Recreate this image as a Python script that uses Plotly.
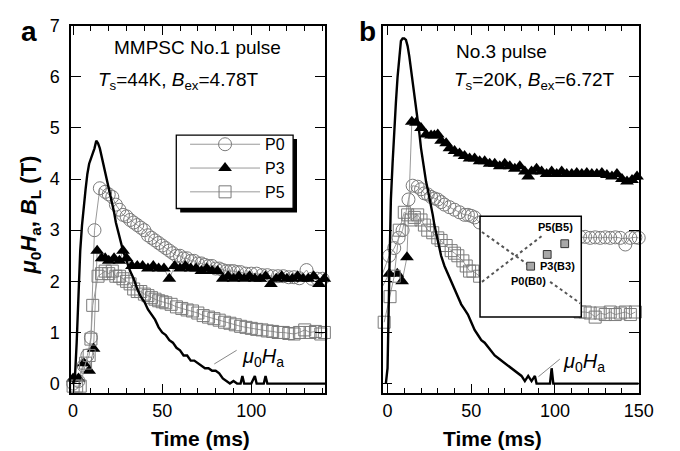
import plotly.graph_objects as go

FONT = "Liberation Sans, Arial, Helvetica, sans-serif"
W, H = 680, 451

# ---------------- data : panel a (MMPSC No.1 pulse) ----------------
t_ha_a = [0, 1, 2, 3, 4, 5, 6, 7, 8, 9, 10, 11, 12, 13, 14, 15, 16, 17, 18, 19, 20,
          21, 22, 23, 24, 25, 26, 27, 28, 29, 30, 32, 34, 36, 38, 40, 42, 44, 46, 48,
          50, 52, 54, 56, 58, 60, 62, 64, 66, 68, 70, 72, 74, 76, 78, 80, 82, 84, 86,
          88, 90, 92, 94, 95, 96, 100, 102, 103, 107, 108, 109, 142]
ha_a = [0.0, 0.1, 0.8, 1.8, 2.6, 3.1, 3.5, 3.8, 4.1, 4.3, 4.4, 4.5, 4.6, 4.75, 4.7,
        4.6, 4.45, 4.3, 4.15, 4.0, 3.85, 3.7, 3.55, 3.35, 3.15, 3.0, 2.85, 2.7, 2.6,
        2.5, 2.4, 2.2, 2.05, 1.85, 1.7, 1.6, 1.45, 1.35, 1.25, 1.1, 1.0, 0.95, 0.85,
        0.8, 0.7, 0.65, 0.55, 0.55, 0.45, 0.45, 0.4, 0.35, 0.3, 0.3, 0.25, 0.25, 0.2,
        0.1, 0.05, 0.0, 0.05, 0.0, 0.0, 0.15, 0.0, 0.0, 0.15, 0.0, 0.0, 0.15, 0.0, 0.0]

t_p0_a = [0, 3, 6, 8, 10, 12, 15, 18, 20, 22, 24, 26, 28, 30, 32, 34, 36, 38, 40, 42,
          44, 46, 48, 50, 52, 54, 56, 58, 60, 62, 64, 66, 68, 70, 72, 74, 76, 78, 80,
          82, 84, 86, 88, 90, 92, 94, 97, 100, 103, 106, 109, 112, 115, 118, 121, 124,
          127, 131, 134, 137, 140]
p0_a = [0.0, 0.05, 0.35, 0.55, 0.9, 3.0, 3.82, 3.75, 3.7, 3.65, 3.5, 3.4, 3.3, 3.27,
        3.2, 3.15, 3.1, 3.05, 3.0, 2.9, 2.85, 2.8, 2.75, 2.7, 2.65, 2.6, 2.55, 2.5, 2.5,
        2.45, 2.45, 2.4, 2.4, 2.35, 2.35, 2.32, 2.3, 2.3, 2.25, 2.25, 2.22, 2.2, 2.2,
        2.2, 2.18, 2.18, 2.15, 2.15, 2.15, 2.12, 2.12, 2.1, 2.1, 2.1, 2.08, 2.08, 2.06,
        2.22, 2.05, 2.05, 2.05]

t_p3_a = [0, 3, 6, 9, 11.5, 13.5, 16, 18, 20, 23, 26, 28, 30, 33, 36, 39, 42, 45, 48,
          51, 54, 57, 60, 63, 66, 69, 72, 75, 78, 81, 84, 87, 90, 93, 96, 99, 102, 105,
          108, 111, 114, 117, 120, 123, 126, 129, 132, 135, 138, 141]
p3_a = [0.1, 0.1, 0.4, 0.25, 0.68, 2.6, 2.45, 2.45, 2.4, 2.45, 2.4, 2.6, 2.45, 2.3,
        2.3, 2.3, 2.25, 2.3, 2.25, 2.25, 2.05, 2.3, 2.25, 2.3, 2.25, 2.25, 2.2, 2.25,
        2.2, 2.2, 2.05, 2.1, 2.05, 2.1, 2.05, 2.1, 2.05, 2.05, 2.1, 1.95, 2.05, 2.1,
        2.05, 2.05, 2.1, 2.05, 2.05, 2.1, 1.95, 2.05]

t_p5_a = [0, 2, 4, 7, 9, 10, 11, 14, 16, 18, 20, 22, 24, 26, 28, 30, 32, 34, 36, 38,
          40, 42, 44, 46, 48, 50, 52, 55, 58, 61, 64, 67, 70, 73, 76, 79, 82, 85, 88,
          91, 94, 97, 100, 103, 106, 109, 112, 115, 118, 121, 124, 127, 130, 133, 136,
          139, 141]
p5_a = [-0.05, -0.05, -0.05, 0.4, 0.55, 0.87, 1.53, 2.1, 2.15, 2.2, 2.15, 2.2, 2.1,
        2.1, 2.05, 2.0, 1.95, 1.85, 1.8, 1.8, 1.75, 1.72, 1.68, 1.65, 1.62, 1.6, 1.58,
        1.55, 1.5, 1.47, 1.44, 1.42, 1.38, 1.33, 1.3, 1.27, 1.24, 1.2, 1.18, 1.15, 1.12,
        1.1, 1.08, 1.06, 1.05, 1.03, 1.02, 1.0, 1.0, 0.98, 0.97, 1.0, 1.05, 1.0, 1.02,
        0.97, 1.0]

# ---------------- data : panel b (No.3 pulse) ----------------
t_ha_b = [-1, 0, 1, 2, 3, 4, 5, 6, 7, 8, 9, 10, 11, 12, 13, 14, 15, 16, 17, 18, 19,
          20, 21, 22, 23, 24, 25, 26, 27, 28, 30, 32, 34, 36, 38, 40, 42, 44, 46, 48,
          50, 52, 54, 56, 58, 60, 62, 64, 66, 68, 70, 72, 74, 76, 78, 80, 82, 84, 86,
          88, 89, 97, 98, 99, 150]
ha_b = [0.0, 0.3, 2.0, 3.6, 4.3, 5.0, 5.5, 6.0, 6.4, 6.7, 6.75, 6.75, 6.72, 6.6, 6.4,
        6.15, 5.9, 5.7, 5.5, 5.2, 4.9, 4.6, 4.35, 4.1, 3.95, 3.8, 3.65, 3.5, 3.3, 3.1,
        2.8, 2.5, 2.3, 2.15, 2.0, 1.85, 1.7, 1.55, 1.45, 1.35, 1.2, 1.05, 0.95, 0.85,
        0.8, 0.72, 0.62, 0.55, 0.5, 0.45, 0.4, 0.35, 0.3, 0.25, 0.2, 0.15, 0.05, 0.15,
        0.05, 0.15, 0.0, 0.0, 0.3, 0.0, 0.0]

t_p0_b = [-3, 1, 4, 6.6, 9, 12.5, 15, 18, 20, 22, 24, 26, 28, 30, 32, 34, 37, 40, 43,
          46, 48, 50, 52, 55, 60, 65, 70, 75, 80, 85, 90, 95, 100, 105, 110, 115, 118,
          121, 124, 127, 130, 133, 136, 139, 142, 145, 148, 150]
p0_b = [2.15, 2.5, 2.65, 2.85, 3.0, 3.6, 3.87, 3.85, 3.8, 3.72, 3.7, 3.65, 3.62, 3.6,
        3.55, 3.5, 3.45, 3.4, 3.35, 3.3, 3.3, 3.28, 3.25, 3.15, 3.1, 3.05, 3.0, 2.98,
        2.96, 2.94, 2.92, 2.9, 2.9, 2.89, 2.88, 2.87, 2.87, 2.85, 2.86, 2.85, 2.86, 2.85,
        2.86, 2.85, 2.72, 2.85, 2.86, 2.85]

t_p3_b = [-3, 1, 5.8, 8.7, 11.6, 14.5, 17, 20, 23, 26, 28, 30, 32, 35, 37, 40, 43, 46,
          49, 52, 55, 58, 61, 64, 67, 70, 73, 76, 79, 82, 84, 86, 89, 92, 95, 98, 101,
          104, 107, 110, 113, 116, 119, 122, 125, 128, 131, 134, 137, 140, 143, 146, 149]
p3_b = [1.9, 2.15, 2.15, 2.0, 2.47, 5.12, 5.1, 5.0, 4.87, 4.85, 4.85, 4.87, 4.75, 4.7,
        4.6, 4.55, 4.5, 4.45, 4.4, 4.4, 4.35, 4.35, 4.3, 4.3, 4.25, 4.3, 4.25, 4.2,
        4.25, 4.15, 4.05, 4.15, 4.2, 4.15, 4.1, 4.15, 4.1, 4.15, 4.1, 4.1, 4.12, 4.1,
        4.12, 4.1, 4.1, 4.12, 4.08, 4.05, 4.1, 4.0, 3.95, 3.98, 4.05]

t_p5_b = [-2, 1.5, 4, 7, 10, 12, 14, 16, 18, 20, 22, 24, 27, 30, 32, 35, 38, 40, 42,
          45, 47, 49, 51, 55, 60, 65, 70, 75, 80, 85, 90, 95, 100, 105, 110, 115, 118,
          121, 124, 127, 130, 133, 136, 139, 142, 145, 148]
p5_b = [1.2, 1.7, 2.1, 3.0, 3.35, 3.3, 3.2, 3.25, 3.3, 3.2, 3.1, 3.0, 2.95, 2.85, 2.8,
        2.7, 2.6, 2.55, 2.5, 2.4, 2.3, 2.2, 2.2, 2.1, 2.0, 1.9, 1.8, 1.75, 1.7, 1.6,
        1.55, 1.5, 1.5, 1.45, 1.45, 1.4, 1.4, 1.38, 1.3, 1.38, 1.35, 1.4, 1.35, 1.38,
        1.4, 1.35, 1.4]

legend_names = ["P0", "P3", "P5"]
x_ticks_a = [0, 50, 100]
x_ticks_b = [0, 50, 100, 150]
y_ticks = [0, 1, 2, 3, 4, 5, 6, 7]


def px(x):
    return x / W


def py(y):
    return 1 - y / H


fig = go.Figure()

GRAY = "#7a7a7a"
LINEGRAY = "#9a9a9a"


def add_panel(xa, ya, tha, ha, t0, p0, t3, p3, t5, p5, show):
    fig.add_trace(go.Scatter(x=t0, y=p0, xaxis=xa, yaxis=ya, mode="lines+markers",
                             name=legend_names[0], showlegend=show, cliponaxis=False,
                             line=dict(color=LINEGRAY, width=1),
                             marker=dict(symbol="circle-open", size=13,
                                         color=GRAY, line=dict(width=1, color=GRAY))))
    fig.add_trace(go.Scatter(x=t3, y=p3, xaxis=xa, yaxis=ya, mode="lines+markers",
                             name=legend_names[1], showlegend=show, cliponaxis=False,
                             line=dict(color=LINEGRAY, width=1),
                             marker=dict(symbol="triangle-up", size=12, color="black")))
    fig.add_trace(go.Scatter(x=t5, y=p5, xaxis=xa, yaxis=ya, mode="lines+markers",
                             name=legend_names[2], showlegend=show, cliponaxis=False,
                             line=dict(color=LINEGRAY, width=1),
                             marker=dict(symbol="square-open", size=12,
                                         color=GRAY, line=dict(width=1, color=GRAY))))
    fig.add_trace(go.Scatter(x=tha, y=ha, xaxis=xa, yaxis=ya, mode="lines",
                             showlegend=False, line=dict(color="black", width=2.4)))


add_panel("x", "y", t_ha_a, ha_a, t_p0_a, p0_a, t_p3_a, p3_a, t_p5_a, p5_a, True)
add_panel("x2", "y2", t_ha_b, ha_b, t_p0_b, p0_b, t_p3_b, p3_b, t_p5_b, p5_b, False)

tickfont = dict(family=FONT, size=18, color="black")
ax_common = dict(showline=True, linecolor="black", linewidth=1.5, mirror="ticks",
                 ticks="inside", tickcolor="black", tickwidth=1.3, showgrid=False,
                 zeroline=False, tickfont=tickfont)
minor_x = dict(dtick=10, tick0=0, ticks="inside", ticklen=6, tickcolor="black",
               tickwidth=1.3, showgrid=False)

ydom = [py(392), py(16)]
fig.update_layout(
    xaxis=dict(domain=[px(70), px(331)], range=[-1.1, 141.5], anchor="y",
               tickvals=x_ticks_a, ticklen=10, minor=minor_x, **ax_common),
    yaxis=dict(domain=ydom, range=[-0.19, 7], anchor="x", tickvals=y_ticks,
               ticklen=10, ticklabelstandoff=6, **ax_common),
    xaxis2=dict(domain=[px(390), px(653)], range=[-2.9, 150], anchor="y2",
                tickvals=x_ticks_b, ticklen=10, minor=minor_x, **ax_common),
    yaxis2=dict(domain=ydom, range=[-0.19, 7], anchor="x2", tickvals=y_ticks,
                ticklen=10, showticklabels=False, **ax_common),
)

shapes = []
# legend box with shadow
shapes.append(dict(type="rect", xref="paper", yref="paper", layer="above",
                   x0=px(182), x1=px(302), y0=py(207), y1=py(132),
                   fillcolor="black", line=dict(width=0)))
shapes.append(dict(type="rect", xref="paper", yref="paper", layer="above",
                   x0=px(178), x1=px(298), y0=py(203), y1=py(128),
                   fillcolor="white", line=dict(color="black", width=1.3)))

# inset (sample schematic) in panel b
shapes.append(dict(type="rect", xref="paper", yref="paper", layer="above",
                   x0=px(490), x1=px(594), y0=py(314), y1=py(211),
                   fillcolor="white", line=dict(color="black", width=1.5)))
for (xa0, ya0, xa1, ya1) in [(492, 227, 540, 261), (562, 278, 593, 300),
                             (492, 278, 555, 230)]:
    shapes.append(dict(type="line", xref="paper", yref="paper", layer="above",
                       x0=px(xa0), y0=py(ya0), x1=px(xa1), y1=py(ya1),
                       line=dict(color="#555555", width=2, dash="dot")))
for (cx, cy) in [(542, 262), (559, 250), (577, 239)]:
    shapes.append(dict(type="rect", xref="paper", yref="paper", layer="above",
                       x0=px(cx - 4), x1=px(cx + 4), y0=py(cy + 4), y1=py(cy - 4),
                       fillcolor="#a8a8a8", line=dict(color="#333333", width=1)))

# leader lines for mu0Ha labels
shapes.append(dict(type="line", xref="paper", yref="paper", layer="above",
                   x0=px(217), y0=py(362), x1=px(240), y1=py(348),
                   line=dict(color="#888888", width=1)))
shapes.append(dict(type="line", xref="paper", yref="paper", layer="above",
                   x0=px(550), y0=py(375), x1=px(572), y1=py(357),
                   line=dict(color="#888888", width=1)))

annotations = []


def ann(x, y, text, size, xanchor="center", yanchor="middle", angle=0, color="black"):
    annotations.append(dict(x=px(x), y=py(y), xref="paper", yref="paper", text=text,
                            showarrow=False, xanchor=xanchor, yanchor=yanchor,
                            textangle=angle,
                            font=dict(family=FONT, size=size, color=color)))


ann(27, 22, "<b>a</b>", 28)
ann(374, 22, "<b>b</b>", 28)
ann(200, 38, "MMPSC No.1 pulse", 19)
ann(96, 73, "<i>T</i><sub>s</sub>=44K, <i>B</i><sub>ex</sub>=4.78T", 19, xanchor="left")
ann(463, 42, "No.3 pulse", 19, xanchor="left")
ann(461, 73, "<i>T</i><sub>s</sub>=20K, <i>B</i><sub>ex</sub>=6.72T", 19, xanchor="left")
ann(243, 355, "<i>μ</i><sub>0</sub><i>H</i><sub>a</sub>", 20, xanchor="left")
ann(573, 360, "<i>μ</i><sub>0</sub><i>H</i><sub>a</sub>", 20, xanchor="left")
ann(203, 438, "<b>Time (ms)</b>", 21)
ann(503, 438, "<b>Time (ms)</b>", 21)
ann(28, 210, "<b><i>μ</i><sub>0</sub><i>H</i><sub>a</sub>, <i>B</i><sub>L</sub> (T)</b>",
    22, angle=-90)
ann(568, 222, "<b>P5(B5)</b>", 11)
ann(570, 262, "<b>P3(B3)</b>", 11)
ann(540, 277, "<b>P0(B0)</b>", 11)

fig.update_layout(
    width=W, height=H, margin=dict(l=0, r=0, t=0, b=0),
    paper_bgcolor="white", plot_bgcolor="white",
    font=dict(family=FONT, size=18, color="black"),
    shapes=shapes, annotations=annotations,
    legend=dict(x=px(187), y=py(120), xanchor="left", yanchor="top",
                bgcolor="rgba(0,0,0,0)", borderwidth=0, itemwidth=70,
                font=dict(family=FONT, size=16, color="black"), tracegroupgap=0),
)

fig.write_html("out.html")
